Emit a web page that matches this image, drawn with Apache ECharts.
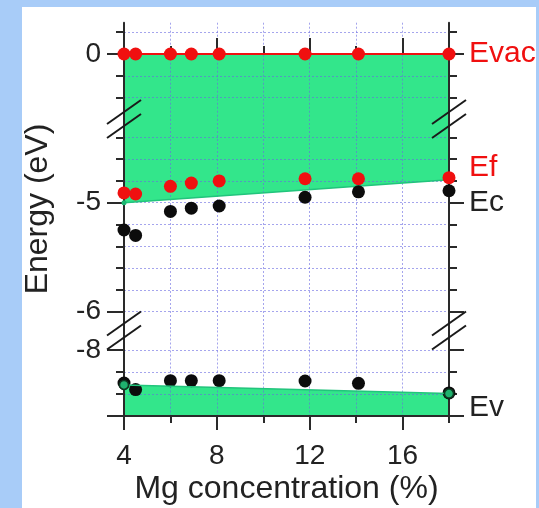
<!DOCTYPE html>
<html><head><meta charset="utf-8">
<script src="https://cdn.jsdelivr.net/npm/echarts@6/dist/echarts.min.js"></script>
<style>
html,body{margin:0;padding:0;width:539px;height:508px;overflow:hidden;background:#a8ccf8;}
#paper{position:absolute;left:22px;top:7px;width:514px;height:501px;background:#fff;}
#chart{position:absolute;left:0;top:0;width:539px;height:508px;}
</style></head><body>
<div id="paper"></div><div id="chart"></div>
<script>
// ---- data ----
const mgConc = [4, 4.5, 6, 6.9, 8.1, 11.8, 14.1, 18];
const eVac = [0, 0, 0, 0, 0, 0, 0, 0];
const eF = [-4.91, -4.92, -4.85, -4.82, -4.80, -4.78, -4.78, -4.77];
const eC = [-5.25, -5.30, -5.08, -5.05, -5.03, -4.95, -4.90, -4.89];
const eV = [-8.50, -8.60, -8.465, -8.465, -8.465, -8.47, -8.505, -8.65];
const bandX = [4, 18];
const ecBand = [-5.00, -4.79];
const evBand = [-8.53, -8.66];

// ---- axes ----
const xMajorTicks = [4, 8, 12, 16];
const xMinorTicks = [4, 6, 8, 10, 12, 14, 16, 18];
const segRanges = [[-0.596, 0.287], [-6.172, -4.232], [-9, -7.705]];
const yMajorTicks = [[0], [-5, -6], [-8, -9]];
const yAllTicks = [[0.2, 0, -0.2, -0.4], [-4.4, -4.6, -4.8, -5, -5.2, -5.4, -5.6, -5.8, -6], [-8, -8.333, -8.667, -9]];
const yLeftLabels = [[0], [-5, -6], [-8]];
const rightLabelValues = [[0], [-4.682, -5], [-9]];
const rightLabelTexts = [['Evac'], ['Ef', 'Ec'], ['Ev']];
const rightLabelRed = [[true], [true, false], [false]];

const FONT = 'Liberation Sans, Arial, Helvetica, sans-serif';
const AX = '#2a2a2a';
const RED = '#f01010';
const GREEN = '#33e68b';
const GRIDC = 'rgba(105,105,225,0.6)';
const GRIDTYPE = [2, 2];

const gridTops = [22.7, 119, 330.5];
const gridBottoms = [119, 330.5, 416];
const grids = gridTops.map((t, i) => ({ left: 124, right: 90, top: t, height: gridBottoms[i] - t }));

const yAxes = [];
for (let g = 0; g < 3; g++) {
  const [mn, mx] = segRanges[g];
  yAxes.push({ type: 'value', gridIndex: g, position: 'left', min: mn, max: mx, z: 3,
    axisLine: { show: true, lineStyle: { color: AX, width: 2 } },
    axisTick: { show: true, customValues: yMajorTicks[g], length: 17, lineStyle: { color: AX, width: 2 } },
    axisLabel: { show: true, customValues: yLeftLabels[g], margin: 23, fontFamily: FONT, fontSize: 28, color: '#222',
      formatter: v => String(Math.round(v)) },
    splitLine: { show: false } });
  yAxes.push({ type: 'value', gridIndex: g, position: 'left', min: mn, max: mx, z: 2,
    axisLine: { show: false },
    axisTick: { show: true, customValues: yAllTicks[g], length: 8, lineStyle: { color: AX, width: 2 } },
    axisLabel: { show: false },
    splitLine: { show: true, lineStyle: { color: GRIDC, type: GRIDTYPE, width: 1 } } });
  yAxes.push({ type: 'value', gridIndex: g, position: 'right', min: mn, max: mx, z: 3,
    axisLine: { show: true, lineStyle: { color: AX, width: 2 } },
    axisTick: { show: true, customValues: yMajorTicks[g], length: 15, lineStyle: { color: AX, width: 2 } },
    axisLabel: { show: true, customValues: rightLabelValues[g], margin: 20, fontFamily: FONT, fontSize: 30, color: '#222',
      padding: g === 2 ? [0, 0, 16, 0] : 0,
      formatter: v => {
        let best = 0, bd = 1e9;
        rightLabelValues[g].forEach((rv, i) => { const d = Math.abs(rv - v); if (d < bd) { bd = d; best = i; } });
        const t = rightLabelTexts[g][best];
        return rightLabelRed[g][best] ? '{r|' + t + '}' : t;
      },
      rich: { r: { color: RED, fontFamily: FONT, fontSize: 30 } } },
    splitLine: { show: false } });
  yAxes.push({ type: 'value', gridIndex: g, position: 'right', min: mn, max: mx, z: 2,
    axisLine: { show: false },
    axisTick: { show: true, customValues: yAllTicks[g], length: 8, lineStyle: { color: AX, width: 2 } },
    axisLabel: { show: false }, splitLine: { show: false } });
}

const xBase = { type: 'value', min: 4, max: 18 };
const xAxes = [
  Object.assign({}, xBase, { gridIndex: 0, position: 'top', z: 3,
    axisLine: { show: true, lineStyle: { color: AX, width: 2 } },
    axisTick: { show: true, customValues: xMajorTicks, length: 16, lineStyle: { color: AX, width: 2 } },
    axisLabel: { show: false }, splitLine: { show: false } }),
  Object.assign({}, xBase, { gridIndex: 0, position: 'top', z: 2,
    axisLine: { show: false },
    axisTick: { show: true, customValues: xMinorTicks, length: 8, lineStyle: { color: AX, width: 2 } },
    axisLabel: { show: false },
    splitLine: { show: true, lineStyle: { color: GRIDC, type: GRIDTYPE, width: 1 } } }),
  Object.assign({}, xBase, { gridIndex: 1, position: 'bottom', z: 2,
    axisLine: { show: false },
    axisTick: { show: false, customValues: xMinorTicks },
    axisLabel: { show: false },
    splitLine: { show: true, lineStyle: { color: GRIDC, type: GRIDTYPE, width: 1 } } }),
  Object.assign({}, xBase, { gridIndex: 2, position: 'bottom', z: 3,
    axisLine: { show: true, lineStyle: { color: AX, width: 2 } },
    axisTick: { show: true, customValues: xMajorTicks, length: 14, lineStyle: { color: AX, width: 2 } },
    axisLabel: { show: true, customValues: xMajorTicks, margin: 26, fontFamily: FONT, fontSize: 28, color: '#222' },
    splitLine: { show: false },
    name: 'Mg concentration (%)', nameLocation: 'middle', nameGap: 57,
    nameTextStyle: { fontFamily: FONT, fontSize: 32, color: '#222' } }),
  Object.assign({}, xBase, { gridIndex: 2, position: 'bottom', z: 2,
    axisLine: { show: false },
    axisTick: { show: true, customValues: xMinorTicks, length: 7, lineStyle: { color: AX, width: 2 } },
    axisLabel: { show: false },
    splitLine: { show: true, lineStyle: { color: GRIDC, type: GRIDTYPE, width: 1 } } })
];

const zip = (xs, ys) => xs.map((x, i) => [x, ys[i]]);

const series = [
  { type: 'line', xAxisIndex: 0, yAxisIndex: 0, z: 1, silent: true, symbol: 'none',
    data: zip(bandX, [eVac[0], eVac[eVac.length - 1]]),
    lineStyle: { width: 0 }, areaStyle: { color: GREEN, opacity: 1, origin: 'start' } },
  { type: 'line', xAxisIndex: 0, yAxisIndex: 0, z: 4, data: zip(mgConc, eVac),
    symbol: 'circle', symbolSize: 13, itemStyle: { color: RED, opacity: 1 }, lineStyle: { color: RED, width: 2 } },
  { type: 'line', xAxisIndex: 2, yAxisIndex: 4, z: 1, silent: true, symbol: 'none',
    data: zip(bandX, ecBand), lineStyle: { width: 0 },
    areaStyle: { color: GREEN, opacity: 1, origin: 'end' } },
  { type: 'line', xAxisIndex: 2, yAxisIndex: 4, z: 3, data: zip(bandX, ecBand),
    symbol: 'circle', symbolSize: 5, itemStyle: { color: '#1cb872', opacity: 1 }, lineStyle: { color: '#22c47c', width: 1.5 } },
  { type: 'scatter', xAxisIndex: 2, yAxisIndex: 4, z: 4, data: zip(mgConc, eF),
    symbolSize: 13, itemStyle: { color: RED, opacity: 1 } },
  { type: 'scatter', xAxisIndex: 2, yAxisIndex: 4, z: 4, data: zip(mgConc, eC),
    symbolSize: 13, itemStyle: { color: '#0c0c0c', opacity: 1 } },
  { type: 'line', xAxisIndex: 3, yAxisIndex: 8, z: 1, silent: true, symbol: 'none',
    data: zip(bandX, evBand), lineStyle: { width: 0 },
    areaStyle: { color: GREEN, opacity: 1, origin: 'start' } },
  { type: 'scatter', xAxisIndex: 3, yAxisIndex: 8, z: 4, data: zip(mgConc, eV),
    symbolSize: 13, itemStyle: { color: '#0c0c0c', opacity: 1 } },
  { type: 'line', xAxisIndex: 3, yAxisIndex: 8, z: 5, data: zip(bandX, evBand),
    symbol: 'circle', symbolSize: 9, lineStyle: { color: '#22c47c', width: 1.5 },
    itemStyle: { color: '#1fb26e', borderColor: '#0d3a22', borderWidth: 1.5, opacity: 1 } }
];

const chart = echarts.init(document.getElementById('chart'), null, { renderer: 'canvas' });
chart.setOption({
  animation: false,
  backgroundColor: 'transparent',
  grid: grids,
  xAxis: xAxes,
  yAxis: yAxes,
  series: series
});

const xl = chart.convertToPixel({ xAxisIndex: 0 }, 4);
const xr = chart.convertToPixel({ xAxisIndex: 0 }, 18);
const yb1 = chart.convertToPixel({ yAxisIndex: 0 }, segRanges[0][0]);
const yb2 = chart.convertToPixel({ yAxisIndex: 8 }, segRanges[2][1]);
const marks = [];
[xl, xr].forEach(x => {
  [yb1, yb2].forEach(yc => {
    [-7, 7].forEach(o => {
      marks.push({ type: 'line', z: 20, silent: true,
        shape: { x1: x - 17, y1: yc + o + 12, x2: x + 17, y2: yc + o - 12 },
        style: { stroke: '#1a1a1a', lineWidth: 2 } });
    });
  });
});
marks.push({ type: 'text', z: 20, silent: true, x: 38, y: 209, rotation: Math.PI / 2,
  style: { text: 'Energy (eV)', font: '32px ' + FONT, fill: '#222', align: 'center', verticalAlign: 'middle' } });
chart.setOption({ graphic: marks });
</script>
</body></html>
